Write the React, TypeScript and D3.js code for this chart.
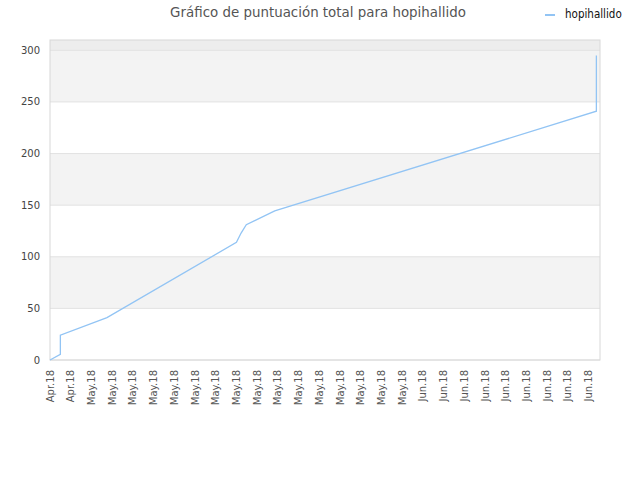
import { useMemo } from "react";
import * as d3 from "d3";

// days since Apr 27 and cumulative score
const days = [0, 1, 1, 5.5, 18, 18.45, 18.95, 21.7, 52.75, 52.75];
const scores = [0, 5.5, 24, 41, 114, 123, 131, 144.5, 241, 295];

const tickLabels = [
  "Apr.18", "Apr.18",
  "May.18", "May.18", "May.18", "May.18", "May.18", "May.18", "May.18", "May.18",
  "May.18", "May.18", "May.18", "May.18", "May.18", "May.18", "May.18", "May.18",
  "Jun.18", "Jun.18", "Jun.18", "Jun.18", "Jun.18", "Jun.18", "Jun.18", "Jun.18", "Jun.18",
];
const tickStep = 2;
const yTicks = [0, 50, 100, 150, 200, 250, 300];

const title = "Gráfico de puntuación total para hopihallido";
const seriesName = "hopihallido";

const width = 640;
const height = 480;
const margin = { top: 40, right: 40, bottom: 120, left: 50 };
const lineColor = "#92c4f4";
const font = "DejaVu Sans, sans-serif";

export default function App() {
  const x = d3.scaleLinear().domain([0, 53.1]).range([margin.left, width - margin.right]);
  const y = d3.scaleLinear().domain([0, 310]).range([height - margin.bottom, margin.top]);

  const path = useMemo(() => {
    const line = d3
      .line<number>()
      .x((d) => x(d))
      .y((_, i) => y(scores[i]));
    return line(days) || "";
  }, []);

  const x0 = margin.left;
  const x1 = width - margin.right;

  return (
    <div style={{ position: "fixed", left: 0, top: 0 }}>
      <svg width={width} height={height} style={{ display: "block", background: "#fff" }}>
        {/* bands */}
        {yTicks.slice(0, -1).map((t, i) =>
          i % 2 === 1 ? (
            <rect key={t} x={x0} y={y(t + 50)} width={x1 - x0} height={y(t) - y(t + 50)} fill="#f3f3f3" />
          ) : null
        )}
        <rect x={x0} y={y(310)} width={x1 - x0} height={y(300) - y(310)} fill="#ededed" />

        {/* grid */}
        {yTicks.map((t) => (
          <line key={t} x1={x0} x2={x1} y1={y(t)} y2={y(t)} stroke="#e2e2e2" strokeWidth={1} />
        ))}

        {/* frame */}
        <rect
          x={x0}
          y={y(310)}
          width={x1 - x0}
          height={y(0) - y(310)}
          fill="none"
          stroke="#d8d8d8"
          strokeWidth={1}
        />

        {/* y labels */}
        {yTicks.map((t) => (
          <text
            key={t}
            x={x0 - 10}
            y={y(t)}
            dy="0.35em"
            textAnchor="end"
            fontFamily={font}
            fontSize={10}
            fill="#444"
          >
            {t}
          </text>
        ))}

        {/* x labels */}
        {tickLabels.map((lab, i) => {
          const tx = x(i * tickStep);
          const ty = y(0) + 10;
          return (
            <text
              key={i}
              transform={`translate(${tx + 3.5},${ty}) rotate(-90)`}
              textAnchor="end"
              fontFamily={font}
              fontSize={10}
              fill="#555"
            >
              {lab}
            </text>
          );
        })}

        {/* series */}
        <path d={path} fill="none" stroke={lineColor} strokeWidth={1.3} />

        {/* title */}
        <text x={318} y={17} textAnchor="middle" fontFamily={font} fontSize={13.4} fill="#555">
          {title}
        </text>

        {/* legend */}
        <line x1={545} x2={555} y1={15} y2={15} stroke={lineColor} strokeWidth={2} />
        <text x={565} y={18} fontFamily="DejaVu Sans Condensed, DejaVu Sans, sans-serif" fontSize={11.5} fill="#111">
          {seriesName}
        </text>
      </svg>
    </div>
  );
}
